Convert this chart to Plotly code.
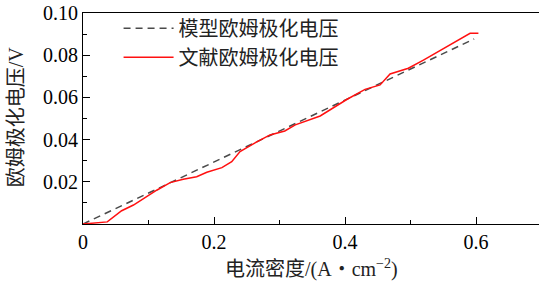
import plotly.graph_objects as go

model_x = [0.0, 0.597]
model_y = [0.0, 0.0877]

lit_x = [0.0, 0.037, 0.059, 0.077, 0.1125, 0.133, 0.153, 0.1735, 0.189, 0.212, 0.227, 0.2397,
         0.26, 0.2855, 0.308, 0.324, 0.362, 0.4025, 0.4305, 0.4534, 0.4687, 0.4966, 0.5196,
         0.5908, 0.6035]
lit_y = [0.0, 0.001, 0.0063, 0.009, 0.016, 0.0196, 0.0212, 0.0224, 0.0245, 0.0267, 0.0295, 0.0343,
         0.038, 0.0422, 0.0441, 0.047, 0.0512, 0.059, 0.0638, 0.0659, 0.0711, 0.0738, 0.0777,
         0.0904, 0.0904]

x_ticks = [0, 0.2, 0.4, 0.6]
x_labels = ["0", "0.2", "0.4", "0.6"]
y_ticks = [0.02, 0.04, 0.06, 0.08, 0.10]
y_labels = ["0.02", "0.04", "0.06", "0.08", "0.10"]

serif = "Liberation Serif, Noto Sans CJK SC"
cjk = "Liberation Serif, Noto Sans CJK SC"

fig = go.Figure()
fig.add_trace(go.Scatter(x=model_x, y=model_y, mode="lines", name="模型欧姆极化电压",
                         line=dict(color="#4a4a4a", width=1.5, dash="7px,5px")))
fig.add_trace(go.Scatter(x=lit_x, y=lit_y, mode="lines", name="文献欧姆极化电压",
                         line=dict(color="#ff1010", width=1.5)))

fig.update_layout(
    width=539, height=285,
    margin=dict(l=83, r=0, t=13, b=61),
    paper_bgcolor="white", plot_bgcolor="white",
    showlegend=True,
    legend=dict(x=0.078, y=1.02, xanchor="left", yanchor="top", bgcolor="rgba(0,0,0,0)",
                font=dict(family=cjk, size=20, color="#222"), itemwidth=50,
                tracegroupgap=0),
    font=dict(family=serif, color="black"),
    annotations=[
        dict(text="电流密度/(A・cm<sup>−2</sup>)", xref="paper", yref="paper", x=0.5, y=-0.21,
             xanchor="center", yanchor="middle", showarrow=False,
             font=dict(family=cjk, size=20, color="#222")),
        dict(text="欧姆极化电压/V", xref="paper", yref="paper", x=-0.145, y=0.51, textangle=-90,
             xanchor="center", yanchor="middle", showarrow=False,
             font=dict(family=cjk, size=20, color="#222")),
    ],
)
fig.update_xaxes(range=[0, 0.696], tickvals=x_ticks, ticktext=x_labels, automargin=False,
                 showline=True, linecolor="black", linewidth=1.2, mirror=True,
                 ticks="inside", ticklen=7, tickcolor="black", showgrid=False, zeroline=False,
                 tickfont=dict(family=serif, size=20),
                 minor=dict(tickvals=[0.1, 0.3, 0.5], ticks="inside", ticklen=4, tickcolor="black"))
fig.update_yaxes(range=[0, 0.1], tickvals=y_ticks, ticktext=y_labels, automargin=False,
                 showline=True, linecolor="black", linewidth=1.2,
                 ticks="inside", ticklen=7, tickcolor="black", showgrid=False, zeroline=False,
                 tickfont=dict(family=serif, size=20),
                 minor=dict(tickvals=[0.01, 0.03, 0.05, 0.07, 0.09], ticks="inside", ticklen=4, tickcolor="black"))

fig.write_html("out.html", post_script="document.body.style.margin='0';",
               config={"displayModeBar": False})
